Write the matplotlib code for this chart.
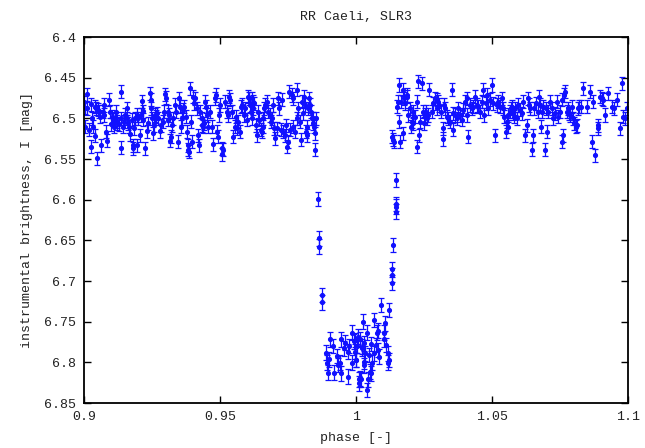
import matplotlib
matplotlib.use('Agg')
import matplotlib.pyplot as plt
from matplotlib.ticker import FuncFormatter

# out-of-eclipse, before the minimum
phase_pre = [
    0.9001, 0.9002, 0.9003, 0.90123, 0.90128, 0.90196, 0.90270, 0.90282, 0.90257, 0.90343,
    0.90392, 0.90417, 0.90441, 0.90466, 0.90527, 0.90564, 0.90588, 0.90613, 0.90686, 0.90735,
    0.90740, 0.90809, 0.90833, 0.90931, 0.90956, 0.90980, 0.91029, 0.91078, 0.91103, 0.91139,
    0.91176, 0.91201, 0.91225, 0.91299, 0.91348, 0.91352, 0.91372, 0.91421, 0.91470, 0.91507,
    0.91568, 0.91593, 0.91629, 0.91666, 0.91691, 0.91752, 0.91789, 0.91813, 0.91838, 0.91874,
    0.91936, 0.91960, 0.91997, 0.92058, 0.92083, 0.92132, 0.92156, 0.92181, 0.92254, 0.92303,
    0.92364, 0.92426, 0.92450, 0.92475, 0.92487, 0.92524, 0.92573, 0.92597, 0.92646, 0.92695,
    0.92732, 0.92793, 0.92818, 0.92891, 0.92940, 0.92977, 0.93010, 0.93076, 0.93100, 0.93136,
    0.93161, 0.93199, 0.93223, 0.93284, 0.93346, 0.93370, 0.93444, 0.93493, 0.93529, 0.93566,
    0.93591, 0.93652, 0.93689, 0.93738, 0.93774, 0.93811, 0.93836, 0.93860, 0.93897, 0.93934,
    0.93958, 0.94019, 0.94056, 0.94081, 0.94142, 0.94203, 0.94240, 0.94264, 0.94326, 0.94350,
    0.94387, 0.94424, 0.94448, 0.94473, 0.94509, 0.94571, 0.94644, 0.94693, 0.94754, 0.94815,
    0.94840, 0.94877, 0.94914, 0.94963, 0.94999, 0.95061, 0.95085, 0.95122, 0.95183, 0.95244,
    0.95281, 0.95330, 0.95379, 0.95428, 0.95489, 0.95551, 0.95575, 0.95612, 0.95673, 0.95734,
    0.95771, 0.95820, 0.95869, 0.95918, 0.95979, 0.96041, 0.96065, 0.96102, 0.96139, 0.96188,
    0.96224, 0.96164, 0.96201, 0.96250, 0.96324, 0.96348, 0.96409, 0.96446, 0.96495, 0.96532,
    0.96569, 0.96593, 0.96618, 0.96654, 0.96716, 0.96777, 0.96838, 0.96863, 0.96899, 0.96936,
    0.96985, 0.97022, 0.97083, 0.97144, 0.97181, 0.97230, 0.97267, 0.97328, 0.97389, 0.97426,
    0.97451, 0.97512, 0.97549, 0.97573, 0.97634, 0.97671, 0.97696, 0.97757, 0.97818, 0.97843,
    0.97879, 0.97941, 0.97965, 0.98002, 0.98063, 0.98088, 0.98124, 0.98161, 0.98186, 0.98210,
    0.98247, 0.98284, 0.98308, 0.98333, 0.98369, 0.98406, 0.98431, 0.98455, 0.98492, 0.98504,
    0.98529,
]
mag_pre = [
    6.4803, 6.4869, 6.5102, 6.4705, 6.4877, 6.5143, 6.4828, 6.5000, 6.5348, 6.5102,
    6.5213, 6.4856, 6.4877, 6.5492, 6.4897, 6.4918, 6.4979, 6.5328, 6.4918, 6.4836,
    6.4959, 6.5164, 6.5278, 6.4774, 6.4918, 6.5074, 6.4979, 6.5000, 6.5102, 6.5020,
    6.4918, 6.5061, 6.5033, 6.5074, 6.4672, 6.5000, 6.5360, 6.5102, 6.5041, 6.4959,
    6.4877, 6.5000, 6.5061, 6.5102, 6.5196, 6.5020, 6.5369, 6.5328, 6.5123, 6.5000,
    6.4959, 6.5328, 6.5000, 6.5205, 6.4959, 6.4787, 6.5020, 6.4910, 6.5369, 6.5156,
    6.5061, 6.4692, 6.4774, 6.4877, 6.5000, 6.5184, 6.5082, 6.4959, 6.4979, 6.4938,
    6.5000, 6.5156, 6.5082, 6.5041, 6.4918, 6.4705, 6.4746, 6.4918, 6.5020, 6.4959,
    6.5278, 6.5225, 6.5082, 6.5000, 6.4836, 6.4918, 6.5287, 6.4754, 6.4856, 6.5102,
    6.5000, 6.4897, 6.4856, 6.4979, 6.5164, 6.5328, 6.5389, 6.5410, 6.4631, 6.5041,
    6.5287, 6.4733, 6.4815, 6.4754, 6.4877, 6.5205, 6.5328, 6.4918, 6.5082, 6.5000,
    6.5102, 6.5061, 6.4795, 6.4856, 6.4959, 6.5102, 6.4918, 6.5102, 6.5320, 6.4754,
    6.4713, 6.5164, 6.5225, 6.4959, 6.4836, 6.5369, 6.5442, 6.5389, 6.4795, 6.4918,
    6.4959, 6.4733, 6.4774, 6.4918, 6.5225, 6.5102, 6.4979, 6.5123, 6.5041, 6.5164,
    6.4856, 6.4836, 6.4959, 6.4877, 6.5020, 6.4733, 6.4754, 6.4836, 6.4918, 6.5000,
    6.4795, 6.4754, 6.4877, 6.4815, 6.5082, 6.5205, 6.4918, 6.5020, 6.5143, 6.5164,
    6.5102, 6.5000, 6.4877, 6.4836, 6.4795, 6.4918, 6.4959, 6.5041, 6.5000, 6.4836,
    6.5123, 6.5246, 6.5123, 6.4754, 6.4877, 6.5143, 6.4774, 6.5164, 6.5205, 6.5082,
    6.5348, 6.5287, 6.4672, 6.5143, 6.4713, 6.4754, 6.5102, 6.5164, 6.4651, 6.5000,
    6.4877, 6.5041, 6.5266, 6.4795, 6.4938, 6.4733, 6.4836, 6.5164, 6.5205, 6.5102,
    6.4877, 6.4754, 6.4836, 6.4918, 6.5000, 6.5061, 6.5000, 6.5102, 6.5389, 6.5184,
    6.5000,
]

# primary minimum (descending branch, bottom, ascending branch)
phase_min = [
    0.98614, 0.98630, 0.98632, 0.98760, 0.98762, 0.98886, 0.99044, 0.99007, 0.98934, 0.98982,
    0.99166, 0.99202, 0.99327, 0.99313, 0.99400, 0.99449, 0.99452, 0.99570, 0.99596, 0.99695,
    0.99717, 0.99754, 0.99842, 0.99845, 0.99938, 0.99960, 0.99965, 0.99989, 1.00011, 1.00026,
    1.00062, 1.00110, 1.00121, 1.00135, 1.00158, 1.00184, 1.00210, 1.00213, 1.00257, 1.00283,
    1.00305, 1.00308, 1.00331, 1.00404, 1.00407, 1.00453, 1.00478, 1.00515, 1.00551, 1.00555,
    1.00577, 1.00650, 1.00673, 1.00724, 1.00772, 1.00798, 1.00820, 1.00846, 1.00919, 1.01040,
    1.01043, 1.01066, 1.01092, 1.01165, 1.01187, 1.01202, 1.01213, 1.01335, 1.01338, 1.01340,
    1.01349, 1.01459, 1.01462, 1.01465, 1.01471,
]
mag_min = [
    6.5992, 6.6475, 6.6578, 6.7172, 6.7262, 6.7882, 6.7717, 6.7963, 6.8004, 6.8127,
    6.7799, 6.8127, 6.8033, 6.7922, 6.8004, 6.7717, 6.8135, 6.7828, 6.7758, 6.7869,
    6.8177, 6.7799, 6.7635, 6.8004, 6.7742, 6.7725, 6.7869, 6.7972, 6.7972, 6.7799,
    6.7684, 6.8258, 6.8209, 6.7717, 6.8197, 6.8209, 6.7808, 6.7828, 6.7500, 6.8037,
    6.7766, 6.7992, 6.7889, 6.7635, 6.8340, 6.8209, 6.7910, 6.8115, 6.7775, 6.8135,
    6.8004, 6.7889, 6.7480, 6.7787, 6.7635, 6.7611, 6.7849, 6.7930, 6.7295, 6.7635,
    6.7717, 6.7520, 6.7787, 6.8004, 6.7889, 6.7357, 6.7972, 6.6856, 6.6926, 6.7021,
    6.6557, 6.6053, 6.6086, 6.6148, 6.5758,
]

# out-of-eclipse, after the minimum
phase_post = [
    1.01309, 1.01370, 1.01395, 1.01580, 1.01493, 1.01554, 1.01591, 1.01615, 1.01640, 1.01713,
    1.01738, 1.01762, 1.01799, 1.01860, 1.01885, 1.01921, 1.01983, 1.02007, 1.02044, 1.02081,
    1.02105, 1.02166, 1.02228, 1.02252, 1.02289, 1.02326, 1.02350, 1.02411, 1.02448, 1.02497,
    1.02534, 1.02571, 1.02620, 1.02656, 1.02693, 1.02779, 1.02840, 1.02901, 1.02963, 1.02987,
    1.03024, 1.03061, 1.03110, 1.03183, 1.03208, 1.03232, 1.03269, 1.03330, 1.03391, 1.03453,
    1.03514, 1.03551, 1.03575, 1.03636, 1.03698, 1.03759, 1.03820, 1.03881, 1.03943, 1.04004,
    1.04065, 1.04090, 1.04126, 1.04188, 1.04249, 1.04310, 1.04371, 1.04436, 1.04498, 1.04559,
    1.04620, 1.04681, 1.04718, 1.04767, 1.04804, 1.04865, 1.04926, 1.04988, 1.05049, 1.05110,
    1.05171, 1.05233, 1.05294, 1.05355, 1.05416, 1.05453, 1.05502, 1.05539, 1.05576, 1.05600,
    1.05661, 1.05698, 1.05747, 1.05784, 1.05821, 1.05845, 1.05906, 1.05968, 1.06029, 1.06090,
    1.06151, 1.06213, 1.06274, 1.06335, 1.06360, 1.06396, 1.06458, 1.06519, 1.06556, 1.06605,
    1.06678, 1.06727, 1.06764, 1.06801, 1.06825, 1.06886, 1.06948, 1.06972, 1.07009, 1.07070,
    1.07131, 1.07193, 1.07254, 1.07315, 1.07376, 1.07438, 1.07499, 1.07560, 1.07585, 1.07621,
    1.07658, 1.07700, 1.07745, 1.07782, 1.07831, 1.07867, 1.07929, 1.07990, 1.08027, 1.08076,
    1.08112, 1.08174, 1.08198, 1.08272, 1.08357, 1.08480, 1.08602, 1.08664, 1.08725, 1.08786,
    1.08884, 1.08909, 1.08970, 1.09031, 1.09092, 1.09154, 1.09276, 1.09423, 1.09497, 1.09582,
    1.09705, 1.09766, 1.09827, 1.09889, 1.09950,
]
mag_post = [
    6.5225, 6.5266, 6.5287, 6.4590, 6.4856, 6.4795, 6.5041, 6.5287, 6.4795, 6.4651,
    6.5184, 6.4754, 6.4815, 6.4713, 6.4733, 6.4959, 6.4877, 6.5102, 6.5041, 6.5061,
    6.4918, 6.4979, 6.5348, 6.4795, 6.4541, 6.5205, 6.5041, 6.4569, 6.4918, 6.5061,
    6.4959, 6.4918, 6.5000, 6.4959, 6.4651, 6.4918, 6.4815, 6.4754, 6.4774, 6.4877,
    6.4795, 6.4836, 6.4918, 6.5254, 6.5123, 6.4836, 6.4877, 6.4979, 6.5000, 6.5041,
    6.4651, 6.4938, 6.5143, 6.4959, 6.5000, 6.4877, 6.4959, 6.5020, 6.4897, 6.4795,
    6.4959, 6.4754, 6.5225, 6.4836, 6.4877, 6.4856, 6.4733, 6.4836, 6.4856, 6.4918,
    6.4795, 6.4651, 6.4959, 6.4815, 6.4713, 6.4877, 6.4774, 6.4590, 6.4815, 6.5205,
    6.4836, 6.4795, 6.4856, 6.4754, 6.4877, 6.4979, 6.5164, 6.5041, 6.5102, 6.4959,
    6.4918, 6.4877, 6.4856, 6.4938, 6.4979, 6.4877, 6.5000, 6.4836, 6.4897, 6.4938,
    6.4795, 6.5205, 6.5082, 6.4754, 6.4836, 6.4877, 6.5389, 6.5205, 6.4877, 6.4815,
    6.4918, 6.4733, 6.4836, 6.5102, 6.4918, 6.4856, 6.5389, 6.4877, 6.5164, 6.4918,
    6.4795, 6.4877, 6.5000, 6.4938, 6.4795, 6.4979, 6.4918, 6.5287, 6.4774, 6.5205,
    6.4713, 6.4672, 6.4918, 6.4877, 6.4938, 6.4959, 6.4856, 6.5000, 6.5061, 6.5102,
    6.5082, 6.4877, 6.4856, 6.4856, 6.4631, 6.4856, 6.4672, 6.5287, 6.4795, 6.5451,
    6.5123, 6.5082, 6.4733, 6.4754, 6.4774, 6.4959, 6.4692, 6.4856, 6.4877, 6.4774,
    6.5123, 6.4569, 6.4979, 6.5000, 6.4877,
]

err_out = 0.008
err_min = 0.009

fig = plt.figure(figsize=(6.45, 4.48), dpi=100)
ax = fig.add_axes([0.1302, 0.1004, 0.8434, 0.817])
mono = ['Liberation Mono', 'DejaVu Sans Mono']

style = dict(fmt='o', color='#1010ff', ms=2.7, elinewidth=0.9, capsize=2.4,
             capthick=0.9)
ax.errorbar(phase_pre, mag_pre, yerr=err_out, **style)
ax.errorbar(phase_min, mag_min, yerr=err_min, **style)
ax.errorbar(phase_post, mag_post, yerr=err_out, **style)

ax.set_xlim(0.9, 1.1)
ax.set_ylim(6.85, 6.4)
ax.set_xticks([0.9, 0.95, 1.0, 1.05, 1.1])
ax.set_yticks([6.4, 6.45, 6.5, 6.55, 6.6, 6.65, 6.7, 6.75, 6.8, 6.85])
fmt = FuncFormatter(lambda v, p: '%g' % round(v, 3))
ax.xaxis.set_major_formatter(fmt)
ax.yaxis.set_major_formatter(fmt)
ax.tick_params(direction='in', length=5, width=1, top=True, right=True,
               labelsize=9.5, pad=6, labelcolor='#222222')
for lbl in ax.get_xticklabels() + ax.get_yticklabels():
    lbl.set_family(mono)
for s in ax.spines.values():
    s.set_linewidth(1.3)

ax.set_title('RR Caeli, SLR3', fontsize=9.5, family=mono, pad=12, color='#222222')
ax.set_xlabel('phase [-]', fontsize=9.5, family=mono, labelpad=6, color='#222222')
ax.set_ylabel('instrumental brightness, I [mag]', fontsize=9.5,
              family=mono, labelpad=8, color='#222222')

fig.savefig('out.png', dpi=100)
